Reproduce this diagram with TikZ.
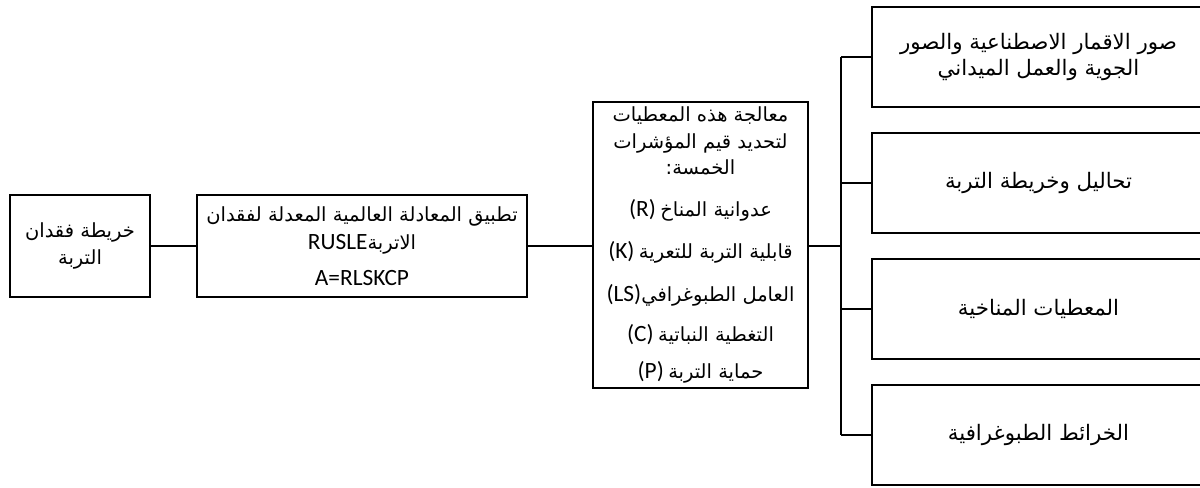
\documentclass[tikz,border=0pt]{standalone}
\usepackage{fontspec}
\setmainfont{Carlito}
\newfontfamily\arabicfont[Script=Arabic]{DejaVu Sans}
\TeXXeTstate=1
\newcommand\AR[1]{{\arabicfont\beginR #1\endR}}
\newcommand\LT[1]{{\fontsize{17.5}{21}\selectfont #1}}
\begin{document}
\begin{tikzpicture}[x=0.75pt,y=-0.75pt,
  box/.style={draw, line width=1.5pt, rectangle, inner sep=0pt, align=center},
  link/.style={line width=1.5pt},
  leftfont/.style={font=\fontsize{14.6}{20}\selectfont},
  rightfont/.style={font=\fontsize{16}{20}\selectfont},
  mixfont/.style={font=\fontsize{14.6}{21}\selectfont}]
\useasboundingbox (0,0) rectangle (1200,487);
\node[box, leftfont, minimum width=105pt, minimum height=76.5pt] (b1) at (80,246)
  {\AR{خريطة فقدان}\\\AR{التربة}};
\node[box, mixfont, minimum width=247.5pt, minimum height=76.5pt] (b2) at (362,246)
  {\AR{تطبيق المعادلة العالمية المعدلة لفقدان}\\\LT{RUSLE}\AR{الاتربة}\\[6pt]\LT{A=RLSKCP}};
\node[box, mixfont, minimum width=161.25pt, minimum height=214.5pt] (b3) at (700.5,245)
  {\AR{معالجة هذه المعطيات}\\[-1pt]\AR{لتحديد قيم المؤشرات}\\[-1pt]\AR{الخمسة:}\\[10pt]
   \LT{(R)} \AR{عدوانية المناخ}\\[11pt]
   \LT{(K)} \AR{قابلية التربة للتعرية}\\[11pt]
   \LT{(LS)}\AR{العامل الطبوغرافي}\\[9pt]
   \LT{(C)} \AR{التغطية النباتية}\\[7pt]
   \LT{(P)} \AR{حماية التربة}};
\node[box, rightfont, minimum width=249.75pt, minimum height=75pt] (rA) at (1038.5,57)
  {\AR{صور الاقمار الاصطناعية والصور}\\\AR{الجوية والعمل الميداني}};
\node[box, rightfont, minimum width=249.75pt, minimum height=75pt] (rB) at (1038.5,183)
  {\AR{تحاليل وخريطة التربة}};
\node[box, rightfont, minimum width=249.75pt, minimum height=75pt] (rC) at (1038.5,309)
  {\AR{المعطيات المناخية}};
\node[box, rightfont, minimum width=249.75pt, minimum height=75pt] (rD) at (1038.5,435)
  {\AR{الخرائط الطبوغرافية}};
\coordinate (busA) at (841,57);
\coordinate (busD) at (841,435);
\draw[link] (b1.east) -- (b2.west);
\draw[link] (b2.east) -- (b3.west |- b2.east);
\draw[link] (b3.east |- b2.east) -- (busA |- b2.east);
\draw[link] (busA) -- (busD);
\draw[link] (busA) -- (rA.west);
\draw[link] (rB.west) -- (rB.west -| busA);
\draw[link] (rC.west) -- (rC.west -| busA);
\draw[link] (busD) -- (rD.west);
\end{tikzpicture}
\end{document}
